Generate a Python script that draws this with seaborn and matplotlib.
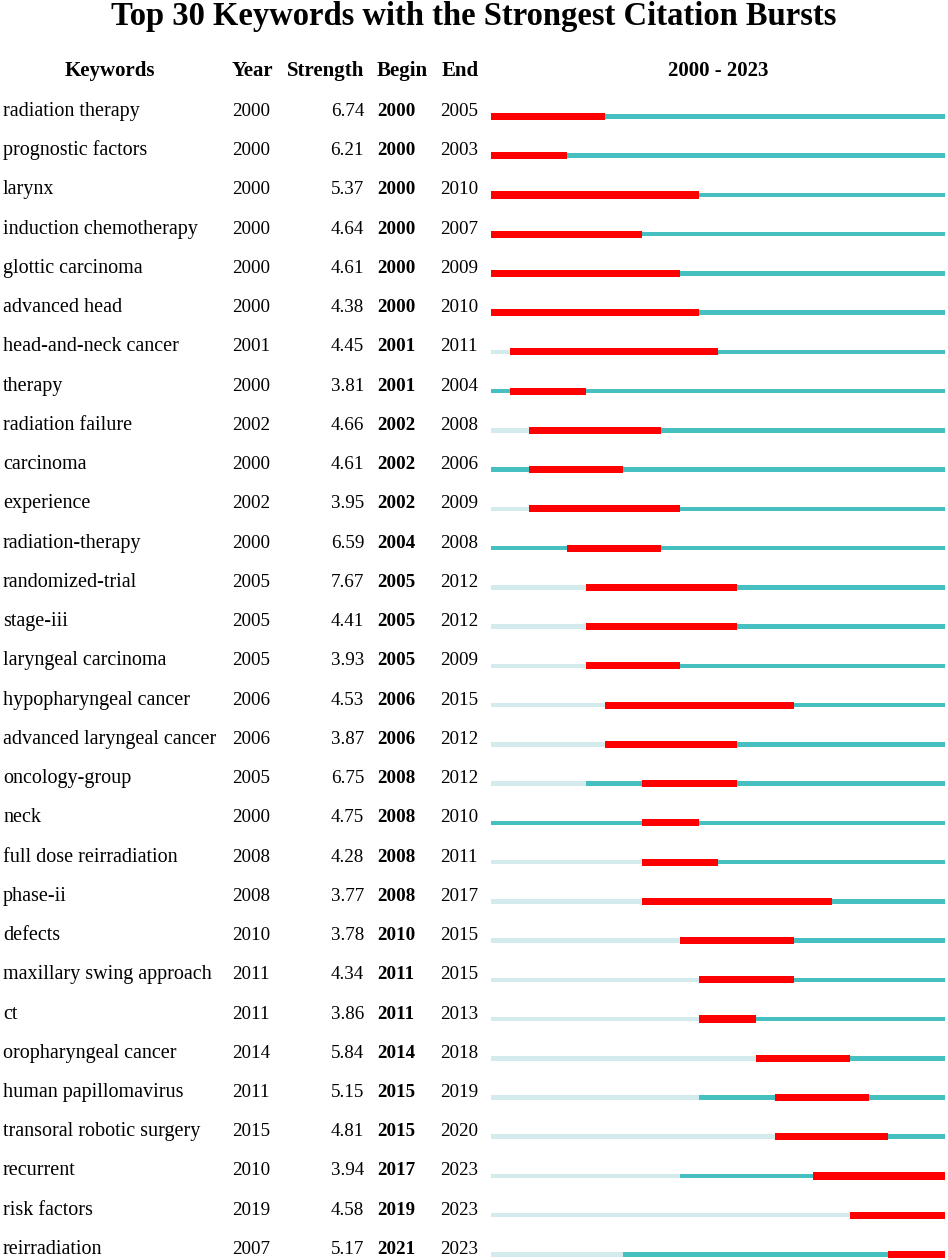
import numpy as np
import pandas as pd
import seaborn as sns
from matplotlib import pyplot as plt
from matplotlib import transforms

keywords = [
    "radiation therapy", "prognostic factors", "larynx", "induction chemotherapy",
    "glottic carcinoma", "advanced head", "head-and-neck cancer", "therapy",
    "radiation failure", "carcinoma", "experience", "radiation-therapy",
    "randomized-trial", "stage-iii", "laryngeal carcinoma", "hypopharyngeal cancer",
    "advanced laryngeal cancer", "oncology-group", "neck", "full dose reirradiation",
    "phase-ii", "defects", "maxillary swing approach", "ct",
    "oropharyngeal cancer", "human papillomavirus", "transoral robotic surgery",
    "recurrent", "risk factors", "reirradiation",
]
years = [2000, 2000, 2000, 2000, 2000, 2000, 2001, 2000, 2002, 2000, 2002, 2000,
         2005, 2005, 2005, 2006, 2006, 2005, 2000, 2008, 2008, 2010, 2011, 2011,
         2014, 2011, 2015, 2010, 2019, 2007]
strengths = [6.74, 6.21, 5.37, 4.64, 4.61, 4.38, 4.45, 3.81, 4.66, 4.61, 3.95, 6.59,
             7.67, 4.41, 3.93, 4.53, 3.87, 6.75, 4.75, 4.28, 3.77, 3.78, 4.34, 3.86,
             5.84, 5.15, 4.81, 3.94, 4.58, 5.17]
begins = [2000, 2000, 2000, 2000, 2000, 2000, 2001, 2001, 2002, 2002, 2002, 2004,
          2005, 2005, 2005, 2006, 2006, 2008, 2008, 2008, 2008, 2010, 2011, 2011,
          2014, 2015, 2015, 2017, 2019, 2021]
ends = [2005, 2003, 2010, 2007, 2009, 2010, 2011, 2004, 2008, 2006, 2009, 2008,
        2012, 2012, 2009, 2015, 2012, 2012, 2010, 2011, 2017, 2015, 2015, 2013,
        2018, 2019, 2020, 2023, 2023, 2023]
first_year, last_year = 2000, 2023

df = pd.DataFrame({"keyword": keywords, "year": years, "strength": strengths,
                   "begin": begins, "end": ends})

sns.set_theme(style="white")
plt.rcParams["font.family"] = ["Liberation Serif", "DejaVu Serif"]
plt.rcParams["text.color"] = "black"

W, H = 948, 1260
fig = plt.figure(figsize=(W / 100, H / 100), dpi=100)

# bar area in pixels: x 491..945, row 0 centre at 116.5, row pitch 39.24
row0, pitch = 116.5, 39.24
top_px = row0 - 0.5 * pitch
bot_px = row0 + 29.1 * pitch
ax = fig.add_axes([491 / W, 1 - bot_px / H, 454 / W, (bot_px - top_px) / H])
ax.set_xlim(first_year, last_year + 1)
ax.set_ylim(29.1, -0.5)
ax.axis("off")

light, teal, red = "#d3ebec", "#45bfc0", "#ff0000"
for i, r in df.iterrows():
    if r.year > first_year:
        ax.barh(i, r.year - first_year, left=first_year, height=0.115,
                color=light, linewidth=0)
    ax.barh(i, last_year + 1 - r.year, left=r.year, height=0.115,
            color=teal, linewidth=0)
    ax.barh(i, r.end + 1 - r.begin, left=r.begin, height=0.18,
            color=red, linewidth=0)

# table text: x in figure fraction, y on the row scale of the bar axes
row_tr = transforms.blended_transform_factory(fig.transFigure, ax.transData)
row_tr = row_tr + transforms.ScaledTranslation(0, 0.5 / 100, fig.dpi_scale_trans)
fs = 13.7
for i, r in df.iterrows():
    ax.text(3 / W, i, r.keyword, transform=row_tr, fontsize=14.5, va="baseline", ha="left")
    ax.text(232 / W, i, f"{r.year}", transform=row_tr, fontsize=fs, va="baseline", ha="left")
    ax.text(364 / W, i, f"{r.strength:.2f}", transform=row_tr, fontsize=fs, va="baseline", ha="right")
    ax.text(377 / W, i, f"{r.begin}", transform=row_tr, fontsize=fs, va="baseline",
            ha="left", fontweight="bold")
    ax.text(440 / W, i, f"{r.end}", transform=row_tr, fontsize=fs, va="baseline", ha="left")

hy = 1 - 76 / H
hfs = 15
fig.text(110 / W, hy, "Keywords", fontsize=hfs, fontweight="bold", ha="center", va="baseline")
fig.text(232 / W, hy, "Year", fontsize=hfs, fontweight="bold", ha="left", va="baseline")
fig.text(364 / W, hy, "Strength", fontsize=hfs, fontweight="bold", ha="right", va="baseline")
fig.text(377 / W, hy, "Begin", fontsize=hfs, fontweight="bold", ha="left", va="baseline")
fig.text(442 / W, hy, "End", fontsize=hfs, fontweight="bold", ha="left", va="baseline")
fig.text(718 / W, hy, f"{first_year} - {last_year}", fontsize=hfs, fontweight="bold",
         ha="center", va="baseline")

fig.text(0.5, 1 - 25 / H, "Top 30 Keywords with the Strongest Citation Bursts",
         fontsize=23.5, fontweight="bold", ha="center", va="baseline")

fig.savefig("out.png", dpi=100)
